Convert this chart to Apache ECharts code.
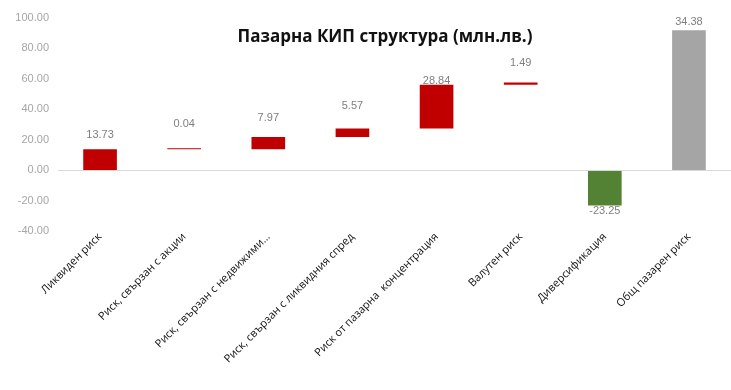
<!DOCTYPE html>
<html>
<head>
<meta charset="utf-8">
<script src="https://cdn.jsdelivr.net/npm/echarts@6/dist/echarts.min.js"></script>
<style>html,body{margin:0;padding:0;background:#fff}#c{width:731px;height:390px}</style>
</head>
<body>
<div id="c"></div>
<script>
// ---- data ----
var categories = ['Ликвиден риск', 'Риск, свързан с акции', 'Риск, свързан с недвижими...', 'Риск, свързан с ликвидния спред', 'Риск от пазарна  концентрация', 'Валутен риск', 'Диверсификация', 'Общ пазарен риск'];
var deltas = [13.73, 0.04, 7.97, 5.57, 28.84, 1.49, -23.25];
var totalValue = 34.38;
var yTicks = [-40, -20, 0, 20, 40, 60, 80, 100];

// ---- styles (not data) ----
var labelDistances = [9, 19, 14, 17, -2, 14, 0, 3];
var RED = '#C00000', GREEN = '#548235', GREY = '#A5A5A5';

// build waterfall (as drawn in the original: negatives stack below zero,
// the total column is drawn from zero up through the running sum)
var base = [], vis = [], shown = [];
var run = 0;
deltas.forEach(function (d) {
  base.push(run);
  vis.push(d);
  shown.push(d);
  if (d > 0) run += d;
});
base.push(0);
vis.push(run + totalValue);
shown.push(totalValue);

var lastIdx = vis.length - 1;
var baseData = base.map(function (b) {
  return { value: b, itemStyle: { color: 'rgba(0,0,0,0)' } };
});
var visData = vis.map(function (v, i) {
  var c = i === lastIdx ? GREY : (v < 0 ? GREEN : RED);
  return {
    value: v,
    itemStyle: { color: c },
    label: { position: v < 0 ? 'bottom' : 'top', distance: labelDistances[i] }
  };
});

var chart = echarts.init(document.getElementById('c'));
chart.setOption({
  animation: false,
  title: {
    text: 'Пазарна КИП структура (млн.лв.)',
    left: 380, top: 24, textAlign: 'center',
    textStyle: { fontFamily: 'Open Sans', fontSize: 17, fontWeight: 'bold', color: '#111' }
  },
  grid: { left: 58, top: 18, width: 680, height: 213, containLabel: false },
  xAxis: {
    type: 'category',
    data: categories,
    axisLine: { show: false, onZero: false },
    axisTick: { show: false },
    axisLabel: { rotate: 45, margin: 4, interval: 0, fontFamily: 'Open Sans', fontSize: 11, fontWeight: 500, color: '#111' }
  },
  yAxis: {
    type: 'value',
    min: yTicks[0], max: yTicks[yTicks.length - 1], interval: 20,
    splitLine: { show: false },
    axisLine: { show: false },
    axisTick: { show: false },
    axisLabel: {
      margin: 9, fontFamily: 'Liberation Sans', fontSize: 11, color: '#a6a6a6',
      formatter: function (v) { return v.toFixed(2); }
    }
  },
  series: [
    {
      type: 'bar', stack: 'w', barWidth: '40%', silent: true,
      data: baseData,
      markLine: {
        silent: true, symbol: 'none', label: { show: false },
        lineStyle: { color: '#d9d9d9', type: 'solid', width: 1 },
        data: [{ yAxis: 0 }]
      }
    },
    {
      type: 'bar', stack: 'w', barWidth: '40%', barMinHeight: 1,
      data: visData,
      label: {
        show: true, fontFamily: 'Liberation Sans', fontSize: 11, color: '#808080',
        formatter: function (p) { return shown[p.dataIndex].toFixed(2); }
      }
    }
  ]
});
</script>
</body>
</html>
